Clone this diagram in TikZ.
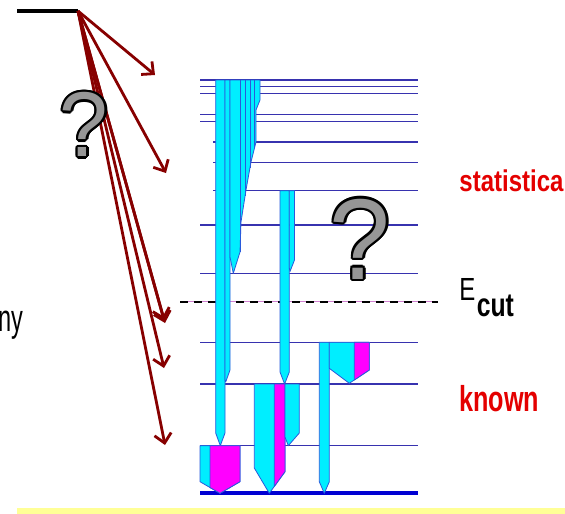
\documentclass[tikz,border=0pt]{standalone}
\usepackage{fontspec}
\setmainfont{Liberation Sans}
\usetikzlibrary{arrows.meta}
\definecolor{lvl}{RGB}{55,50,175}
\definecolor{cyanfill}{RGB}{0,238,255}
\definecolor{magfill}{RGB}{255,0,255}
\definecolor{edgeblue}{RGB}{40,90,220}
\definecolor{arrowred}{RGB}{135,0,0}
\definecolor{textred}{RGB}{228,0,0}
\definecolor{bandyellow}{RGB}{255,255,150}
\definecolor{qgray}{RGB}{150,150,150}
\definecolor{dashpink}{RGB}{210,130,210}
\definecolor{botblue}{RGB}{0,0,210}
\newcommand\outlinedq[5]{% name, x, y, size, xscale
  \foreach \a in {0,30,...,330}{%
    \node[shift={(\a:2.4)},xscale=#5,inner sep=0,text=black] (#1o\a) at (#2,#3) {\fontsize{#4}{#4}\selectfont ?};}
  \node[xscale=#5,inner sep=0,text=qgray] (#1) at (#2,#3) {\fontsize{#4}{#4}\selectfont ?};}
\begin{document}
\begin{tikzpicture}[x=1pt,y=-1pt,
  level/.style={draw=lvl,line width=1.4pt},
  cyanbox/.style={fill=cyanfill,draw=edgeblue,line width=0.8pt,line join=round},
  magbox/.style={fill=magfill,draw=edgeblue,line width=0.8pt,line join=round},
  divider/.style={draw=edgeblue,line width=0.8pt},
  gammaarrow/.style={draw=arrowred,line width=2.8pt,-{Straight Barb[length=9pt,width=17pt]}},
  label/.style={inner sep=0,font=\fontsize{#1}{#1}\selectfont},
  label/.default=30]
\clip (0,0) rectangle (565,514);
\fill[white] (0,0) rectangle (565,514);
% yellow band
\fill[bandyellow] (17,508) rectangle (565,514);
% level lines
\foreach \yy in {80,86.7,93.7,114.3,121.3,225,273.3,342.3,384,445.7}
  \draw[level] (200,\yy) -- (418,\yy);
\foreach \yy in {142,162.7,190.7}
  \draw[level] (213,\yy) -- (418,\yy);
\draw[draw=botblue,line width=4pt] (200,493.3) -- (418,493.3);
% E_cut dashed line
\draw[dashpink,line width=1pt] (180,301.7) -- (438,301.7);
\draw[black,line width=2pt,dash pattern=on 8pt off 6pt] (180,301.7) -- (438,301.7);
% big cascade
\filldraw[cyanbox] (215.7,80) -- (225,80) -- (225,433) -- (220.3,445.7) -- (215.7,433) -- cycle;
\filldraw[cyanbox] (225,80) -- (230,80) -- (230,370) -- (225.7,382) -- (225,380) -- cycle;
\filldraw[cyanbox] (230,80) -- (260,80) -- (260,100) -- (256,110) -- (256,142) -- (251,162)
  -- (246,190) -- (241,222) -- (240,252) -- (233.3,273.3) -- (230,257) -- cycle;
\draw[divider] (240,80) -- (240,252);
\draw[divider] (245,80) -- (245,196.4);
\draw[divider] (250,80) -- (250,167.6);
\draw[divider] (254.5,80) -- (254.5,148);
% middle cascade
\filldraw[cyanbox] (280,190.7) -- (289.3,190.7) -- (289.3,372) -- (284.6,384) -- (280,372) -- cycle;
\filldraw[cyanbox] (289.3,190.7) -- (294.5,190.7) -- (294.5,260) -- (290,271.5) -- (289.3,268) -- cycle;
\filldraw[cyanbox] (254.3,384) -- (285,384) -- (285,471.7) -- (269.3,493.3) -- (254.3,468) -- cycle;
\filldraw[magbox] (274.3,384) -- (285,384) -- (285,471.7) -- (274.3,486.4) -- cycle;
\filldraw[cyanbox] (285,384) -- (299.3,384) -- (299.3,433) -- (288.3,445.7) -- (285,437) -- cycle;
% left bottom box
\filldraw[cyanbox] (200,445.7) -- (240,445.7) -- (240,481.7) -- (220,493.3) -- (200,481.7) -- cycle;
\filldraw[magbox] (210,445.7) -- (240,445.7) -- (240,481.7) -- (220,493.3) -- (210,487.5) -- cycle;
% right cascade
\filldraw[cyanbox] (319.3,342.3) -- (329.3,342.3) -- (329.3,481.7) -- (324.3,493.3) -- (319.3,481.7) -- cycle;
\filldraw[cyanbox] (329.3,342.3) -- (369.3,342.3) -- (369.3,370) -- (349.3,383.3) -- (329.3,368.3) -- cycle;
\filldraw[magbox] (354.3,342.3) -- (369.3,342.3) -- (369.3,370) -- (354.3,380) -- cycle;
% top level and gamma arrows
\draw[black,line width=4pt] (17,11) -- (78,11);
\coordinate (src) at (78,11);
\coordinate (t1) at (155,75);
\coordinate (t2) at (166,173);
\coordinate (t3) at (165,323);
\coordinate (t3b) at (164,320);
\coordinate (t4) at (164,368);
\coordinate (t5) at (165,445);
\foreach \t in {t1,t2,t3,t3b,t4,t5}
  \draw[gammaarrow] (src) -- (\t);
% question marks
\outlinedq{qa}{84}{124.5}{92}{0.95}
\outlinedq{qb}{360}{239}{115}{0.95}
% texts
\node[label=30,anchor=base west,xscale=0.8,text=textred] (stat) at (459.3,191.7) {\bfseries statistica};
\node[label=32,anchor=base west,xscale=0.75] (ecutE) at (459.3,300) {E};
\node[label=33,anchor=base west,xscale=0.75] (ecutsub) at (476.7,316.7) {\bfseries cut};
\node[label=36,anchor=base west,xscale=0.7,text=textred] (known) at (459.3,411.7) {\bfseries known};
\node[label=38,anchor=base east,xscale=0.62] (ny) at (23.5,331.7) {ny};
\end{tikzpicture}
\end{document}
